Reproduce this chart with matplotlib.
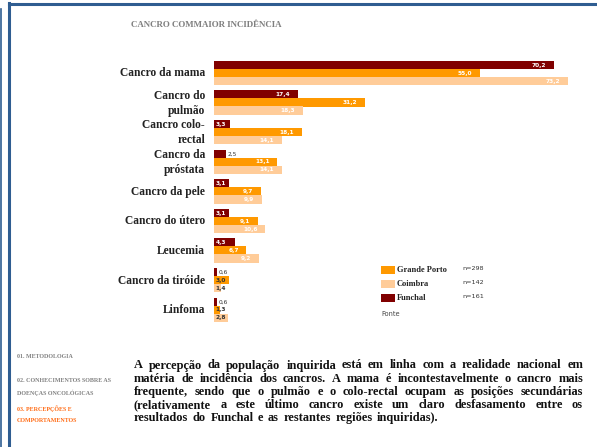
"""Cancro com maior incidência - horizontal grouped bars."""

import matplotlib.pyplot as plt
from matplotlib.patches import Rectangle
from matplotlib.lines import Line2D

W, H = 597, 447

categories = [
    "Cancro da mama",
    "Cancro do\npulmão",
    "Cancro colo-\nrectal",
    "Cancro da\npróstata",
    "Cancro da pele",
    "Cancro do útero",
    "Leucemia",
    "Cancro da tiróide",
    "Linfoma",
]
funchal = [70.2, 17.4, 3.3, 2.5, 3.1, 3.1, 4.3, 0.6, 0.6]
grande_porto = [55.0, 31.2, 18.1, 13.1, 9.7, 9.1, 6.7, 3.0, 1.3]
coimbra = [73.2, 18.3, 14.1, 14.1, 9.9, 10.6, 9.2, 1.4, 2.8]

series_names = ["Funchal", "Grande Porto", "Coimbra"]
series_n = {"Grande Porto": "n=298", "Coimbra": "n=142", "Funchal": "n=161"}
colors = {"Funchal": "#800000", "Grande Porto": "#FF9900", "Coimbra": "#FFCC99"}

body_lines = [
    "A percepção da população inquirida está em linha com a realidade nacional em",
    "matéria de incidência dos cancros. A mama é incontestavelmente o cancro mais",
    "frequente, sendo que o pulmão e o colo-rectal ocupam as posições secundárias",
    "(relativamente a este último cancro existe um claro desfasamento entre os",
    "resultados do Funchal e as restantes regiões inquiridas).",
]

SERIF = "Liberation Serif"
FRAME = "#2F5D91"


def px(x, y):
    return x / W, 1 - y / H


fig = plt.figure(figsize=(W / 100, H / 100), dpi=100)
fig.patch.set_facecolor("white")

# frame lines
fig.add_artist(Line2D([8.5 / W, 8.5 / W], [0, 1 - 3 / H], color=FRAME, lw=2.2))
fig.add_artist(Line2D([8.5 / W, 1], [1 - 4 / H, 1 - 4 / H], color=FRAME, lw=2.2))
fig.add_artist(Line2D([0.5 / W, 0.5 / W], [0, 1 - 9 / H], color=FRAME, lw=1.2))

# bars: y axis uses pixel-like units
top, bottom, right = 55, 325, 577
ax = fig.add_axes([214 / W, 1 - bottom / H, (right - 214) / W, (bottom - top) / H])
ax.set_xlim(0, (right - 214) / 4.84)
ax.set_ylim(bottom, top)
ax.axis("off")

pitch, first, bar_h = 29.6, 61, 8.3
data = {"Funchal": funchal, "Grande Porto": grande_porto, "Coimbra": coimbra}
for k, name in enumerate(series_names):
    vals = data[name]
    ys = [first + i * pitch + 4 + 8 * k for i in range(len(vals))]
    ax.barh(ys, vals, height=bar_h, color=colors[name], linewidth=0)
    for y, v in zip(ys, vals):
        lab = f"{v:.1f}".replace(".", ",")
        if v >= 6:
            ax.text(v - 1.6, y, lab, ha="right", va="center", fontsize=4.2,
                    color="white", fontweight="bold")
        elif v >= 3.1:
            ax.text(0.3, y, lab, ha="left", va="center", fontsize=4.2,
                    color="white", fontweight="bold")
        elif name == "Funchal":
            ax.text(v + 0.3, y, lab, ha="left", va="center", fontsize=4.2,
                    color="#333333")
        else:
            ax.text(0.3, y, lab, ha="left", va="center", fontsize=4.2,
                    color="#333333", fontweight="bold")

# category labels
for i, cat in enumerate(categories):
    x, y = px(205, first + i * pitch + 12.5)
    fig.text(x, y, cat, ha="right", va="center", fontsize=8.3, family=SERIF,
             fontweight="bold", color="#222222", linespacing=1.35)

# title
x, y = px(131, 25)
fig.text(x, y, "CANCRO COMMAIOR INCIDÊNCIA", ha="left", va="center", fontsize=6.4,
         family=SERIF, fontweight="bold", color="#7F7F7F")

# legend
for j, name in enumerate(["Grande Porto", "Coimbra", "Funchal"]):
    yy = 270 + j * 14.2
    x0, y0 = px(381, yy + 4)
    fig.add_artist(Rectangle((x0, y0), 14 / W, 8 / H, transform=fig.transFigure,
                             facecolor=colors[name], edgecolor="none"))
    x, y = px(397, yy)
    fig.text(x, y, name, ha="left", va="center", fontsize=6, family=SERIF,
             fontweight="bold", color="#222222")
    x, y = px(462, yy - 1.5)
    fig.text(x, y, series_n[name], ha="left", va="center", fontsize=4.6,
             color="#333333")
x, y = px(381, 314)
fig.text(x, y, "Fonte", ha="left", va="center", fontsize=4.8, color="#444444")

# left navigation
nav = [
    ("01. METODOLOGIA", 357, "#808080"),
    ("02. CONHECIMENTOS SOBRE AS", 380, "#808080"),
    ("DOENÇAS ONCOLÓGICAS", 393, "#808080"),
    ("03. PERCEPÇÕES E", 409, "#FF6A13"),
    ("COMPORTAMENTOS", 421, "#FF6A13"),
]
for txt, yy, c in nav:
    x, y = px(17, yy)
    fig.text(x, y, txt, ha="left", va="center", fontsize=4.3, family=SERIF,
             fontweight="bold", color=c)

# body paragraph, justified word by word
renderer = fig.canvas.get_renderer()
x_left, x_right = 134, 583
for li, line in enumerate(body_lines):
    yy = 365.5 + li * 13.2
    words = line.split(" ")
    texts = []
    for w in words:
        t = fig.text(0, 1 - yy / H, w, ha="left", va="center", fontsize=8.9,
                     family=SERIF, fontweight="bold", color="#111111")
        texts.append(t)
    widths = [t.get_window_extent(renderer).width for t in texts]
    if li < len(body_lines) - 1:
        gap = (x_right - x_left - sum(widths)) / (len(words) - 1)
    else:
        gap = 4.5
    cx = x_left
    for t, wd in zip(texts, widths):
        t.set_x(cx / W)
        cx += wd + gap

fig.savefig("out.png", dpi=100)
